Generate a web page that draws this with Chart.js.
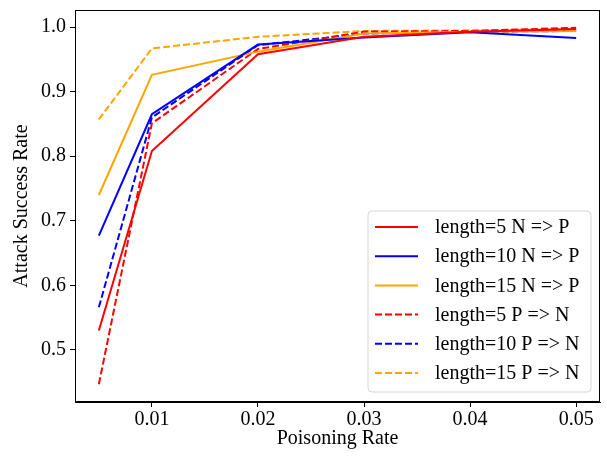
<!DOCTYPE html>
<html>
<head>
<meta charset="utf-8">
<script src="https://cdn.jsdelivr.net/npm/chart.js@4"></script>
<style>
  html, body { margin: 0; padding: 0; background: #fff; }
  #wrap { width: 607px; height: 458px; }
</style>
</head>
<body>
<div id="wrap"><canvas id="grafico" width="607" height="458"></canvas></div>
<script>
// dados
var taxas = [0.005, 0.01, 0.02, 0.03, 0.04, 0.05];//eixo x (poisoning rate)
var xTicks = [0.01, 0.02, 0.03, 0.04, 0.05];
var yTicks = [0.5, 0.6, 0.7, 0.8, 0.9, 1.0];

var len5NP  = [0.530, 0.808, 0.958, 0.985, 0.993, 0.997];
var len10NP = [0.677, 0.865, 0.973, 0.984, 0.992, 0.983];
var len15NP = [0.740, 0.926, 0.962, 0.990, 0.993, 0.994];
var len5PN  = [0.447, 0.851, 0.966, 0.993, 0.994, 0.999];
var len10PN = [0.566, 0.860, 0.972, 0.990, 0.993, 0.994];
var len15PN = [0.857, 0.967, 0.985, 0.994, 0.995, 0.997];

var fonte = "'Liberation Serif', 'Times New Roman', serif";

function serie(label, valores, cor, tracejado) {
  return {
    label: label,
    data: taxas.map(function (x, i) { return { x: x, y: valores[i] }; }),
    borderColor: cor,
    backgroundColor: cor,
    borderWidth: 2,
    borderDash: tracejado ? [7, 3] : [],
    pointRadius: 0,
    tension: 0
  };
}

// moldura e legenda desenhadas no canvas
var molduraLegenda = {
  id: 'molduraLegenda',
  afterDraw: function (chart) {
    var ctx = chart.ctx, a = chart.chartArea;
    ctx.save();
    ctx.strokeStyle = '#000';
    ctx.lineWidth = 1;
    ctx.strokeRect(a.left + 0.5, a.top + 0.5, a.right - a.left - 1, a.bottom - a.top - 1);

    var w = 223, h = 181, r = 4;
    var x0 = a.right - 9 - w, y0 = a.bottom - 10 - h;
    ctx.beginPath();
    ctx.moveTo(x0 + r, y0);
    ctx.arcTo(x0 + w, y0, x0 + w, y0 + h, r);
    ctx.arcTo(x0 + w, y0 + h, x0, y0 + h, r);
    ctx.arcTo(x0, y0 + h, x0, y0, r);
    ctx.arcTo(x0, y0, x0 + w, y0, r);
    ctx.closePath();
    ctx.fillStyle = 'rgba(255,255,255,0.8)';
    ctx.fill();
    ctx.strokeStyle = '#d6d6d6';
    ctx.stroke();

    ctx.font = '20px ' + fonte;
    ctx.textBaseline = 'middle';
    chart.data.datasets.forEach(function (ds, i) {
      var yy = y0 + 16 + i * 29.2;
      ctx.beginPath();
      ctx.setLineDash(ds.borderDash);
      ctx.strokeStyle = ds.borderColor;
      ctx.lineWidth = 2;
      ctx.moveTo(x0 + 7, yy);
      ctx.lineTo(x0 + 50, yy);
      ctx.stroke();
      ctx.setLineDash([]);
      ctx.fillStyle = '#000';
      ctx.fillText(ds.label, x0 + 67, yy + 1);
    });
    ctx.restore();
  }
};

new Chart(document.getElementById('grafico'), {
  type: 'line',
  data: {
    datasets: [
      serie('length=5 N => P', len5NP, 'red', false),
      serie('length=10 N => P', len10NP, 'blue', false),
      serie('length=15 N => P', len15NP, 'orange', false),
      serie('length=5 P => N', len5PN, 'red', true),
      serie('length=10 P => N', len10PN, 'blue', true),
      serie('length=15 P => N', len15PN, 'orange', true)
    ]
  },
  options: {
    responsive: false,
    animation: false,
    layout: { padding: { top: 10, right: 7, left: 0, bottom: 0 } },
    plugins: { legend: { display: false }, tooltip: { enabled: false } },
    scales: {
      x: {
        type: 'linear',
        min: 0.00275,
        max: 0.05225,
        afterBuildTicks: function (s) { s.ticks = xTicks.map(function (v) { return { value: v }; }); },
        afterFit: function (s) { s.height = 56; s.paddingLeft = 0; s.paddingRight = 0; },
        ticks: {
          color: '#000',
          padding: 1,
          font: { family: fonte, size: 20 },
          callback: function (v) { return v.toFixed(2); }
        },
        grid: { drawOnChartArea: false, color: '#000', tickLength: 5 },
        border: { color: '#000' },
        title: {
          display: true,
          text: 'Poisoning Rate',
          color: '#000',
          font: { family: fonte, size: 20 },
          padding: { top: 0, bottom: 7 }
        }
      },
      y: {
        min: 0.4194,
        max: 1.0265,
        afterBuildTicks: function (s) { s.ticks = yTicks.map(function (v) { return { value: v }; }); },
        afterFit: function (s) { s.width = 75; s.paddingTop = 0; s.paddingBottom = 0; },
        ticks: {
          color: '#000',
          padding: 4,
          font: { family: fonte, size: 20 },
          callback: function (v) { return v.toFixed(1); }
        },
        grid: { drawOnChartArea: false, color: '#000', tickLength: 5 },
        border: { color: '#000' },
        title: {
          display: true,
          text: 'Attack Success Rate',
          color: '#000',
          font: { family: fonte, size: 20 },
          padding: { top: 10, bottom: 0 }
        }
      }
    }
  },
  plugins: [molduraLegenda]
});
</script>
</body>
</html>
